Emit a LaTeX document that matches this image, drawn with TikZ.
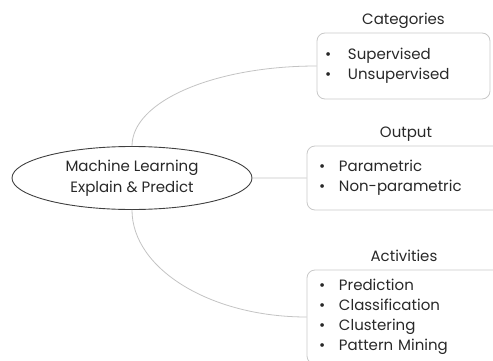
\documentclass[tikz,border=0pt]{standalone}
\usepackage{fontspec}
\setmainfont{Poppins}
\usetikzlibrary{positioning,shapes.geometric}
\definecolor{boxgray}{RGB}{200,200,200}
\definecolor{linkgray}{RGB}{195,195,195}
\definecolor{inkgray}{RGB}{40,40,40}
\newcommand{\bitem}[1][20pt]{\makebox[#1][l]{\textbullet}}
\tikzset{
	topic/.style={ellipse,draw=black!75,line width=0.9pt,inner sep=0pt,
		minimum width=240pt,minimum height=63pt,align=center},
	listbox/.style={draw=boxgray,line width=0.8pt,rounded corners=8pt,
		align=left,inner ysep=0pt},
	heading/.style={inner sep=0pt,text height=0.75em,text depth=0.2em},
	link/.style={draw=linkgray,line width=0.8pt},
}
\begin{document}
\begin{tikzpicture}[x=1pt,y=1pt,font=\fontsize{15}{20}\selectfont,text=inkgray]
	\useasboundingbox (0,0) rectangle (493,360);
	\clip (0,0) rectangle (493,360);
	%CENTRE
	\node[topic](ml) at (132,182){Machine Learning\\[1.5pt]Explain \& Predict};
	%BOXES
	\node[listbox,inner xsep=8pt,text width=157pt,minimum height=66pt](cat) at (403.5,294)
		{\bitem[23pt]Supervised\\\bitem[23pt]Unsupervised};
	\node[listbox,inner xsep=12pt,text width=174pt,minimum height=64pt](out) at (406,182)
		{\bitem Parametric\\\bitem Non-parametric};
	\node[listbox,inner xsep=12pt,text width=170pt,minimum height=94pt](act) at (404,43)
		{\bitem Prediction\\\bitem Classification\\\bitem Clustering\\\bitem Pattern Mining};
	%HEADINGS
	\node[heading](cathead)[above=6pt of cat]{Categories};
	\node[heading](outhead)[above=6pt of out]{Output};
	\node[heading](acthead)[above=6pt of act]{Activities};
	%PATHS
	\path[link] (ml.north) to [out=90,in=180,out distance=45pt,in distance=102pt] (cat.west)
		(ml.east) -- (out.west)
		(ml.south) to [out=-90,in=180,out distance=59pt,in distance=96pt] (act.west);
\end{tikzpicture}
\end{document}
